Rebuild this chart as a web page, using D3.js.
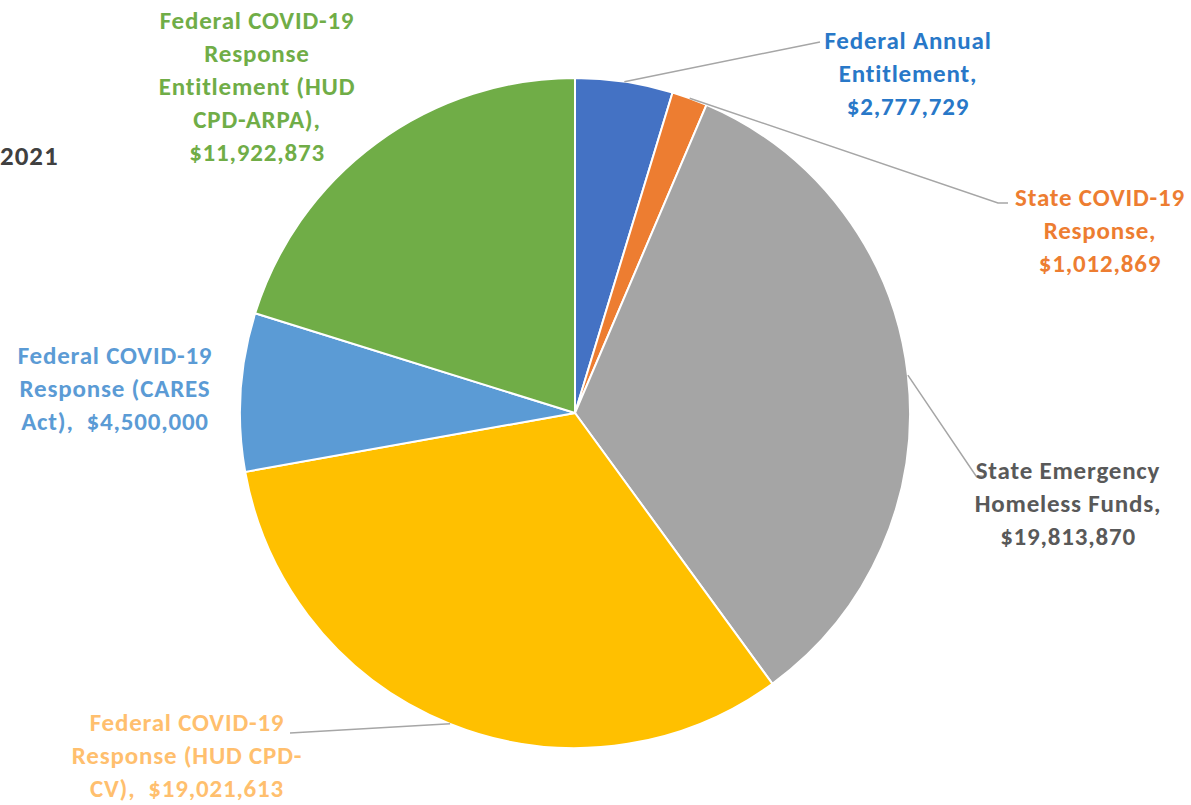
<!DOCTYPE html>
<html>
<head>
<meta charset="utf-8">
<script src="https://cdn.jsdelivr.net/npm/d3@7"></script>
<style>
  body { margin:0; background:#fff; }
  svg text { font-family: Carlito, Calibri, Lato, "Open Sans", sans-serif; font-weight:bold; }
</style>
</head>
<body>
<svg width="1191" height="805"></svg>
<script>
// data, clockwise from 12 o'clock
const categories = [
  'Federal Annual Entitlement',
  'State COVID-19 Response',
  'State Emergency Homeless Funds',
  'Federal COVID-19 Response (HUD CPD-CV)',
  'Federal COVID-19 Response (CARES Act)',
  'Federal COVID-19 Response Entitlement (HUD CPD-ARPA)'
];
const amounts = [2777729, 1012869, 19813870, 19021613, 4500000, 11922873];
const labelLines = [
  ['Federal Annual', 'Entitlement,', '$2,777,729'],
  ['State COVID-19', 'Response,', '$1,012,869'],
  ['State Emergency', 'Homeless Funds,', '$19,813,870'],
  ['Federal COVID-19', 'Response (HUD CPD-', 'CV),  $19,021,613'],
  ['Federal COVID-19', 'Response (CARES', 'Act),  $4,500,000'],
  ['Federal COVID-19', 'Response', 'Entitlement (HUD', 'CPD-ARPA),', '$11,922,873']
];
const sliceColors = ['#4472C4', '#ED7D31', '#A5A5A5', '#FFC000', '#5B9BD5', '#70AD47'];
const labelColors = ['#2878C8', '#ED7D31', '#595959', '#FFBF6E', '#5B9BD5', '#70AD47'];

function Start(){
    const svg = d3.select('svg');
    const cx = 575, cy = 413, radius = 335;
    const lineH = 33;

    // label placement: center x, first line y, leader line end (or null)
    const labelPos = [
      { x: 908, y: 40,  end: [820, 42],  elbow: null },
      { x: 1100, y: 197, end: [1008, 203], elbow: [998, 203] },
      { x: 1068, y: 470, end: [986, 476], elbow: [976, 476] },
      { x: 187, y: 722, end: [290, 733], elbow: null },
      { x: 115, y: 355, end: null },
      { x: 257, y: 20,  end: null }
    ];

    const data = categories.map((c, i) => ({ name: c, value: amounts[i], i }));

    const pie = d3.pie().value(d => d.value).sort(null);
    const arc = d3.arc().innerRadius(0).outerRadius(radius);
    const arcs = pie(data);

    const g = svg.append('g')
        .attr('transform', `translate(${cx},${cy})`);

    g.selectAll('path').data(arcs)
      .enter().append('path')
        .attr('d', arc)
        .attr('fill', d => sliceColors[d.data.i])
        .attr('stroke', '#fff')
        .attr('stroke-width', 2);

    // leader lines
    arcs.forEach(a => {
      const p = labelPos[a.data.i];
      if (!p.end) return;
      const mid = (a.startAngle + a.endAngle) / 2;
      const ax = cx + radius * Math.sin(mid);
      const ay = cy - radius * Math.cos(mid);
      const pts = [[ax, ay]];
      if (p.elbow) pts.push(p.elbow);
      pts.push(p.end);
      svg.append('path')
        .attr('d', d3.line()(pts))
        .attr('fill', 'none')
        .attr('stroke', '#A6A6A6')
        .attr('stroke-width', 1.5);
    });

    // labels
    data.forEach(d => {
      const p = labelPos[d.i];
      const t = svg.append('text')
        .attr('text-anchor', 'middle')
        .attr('font-size', 25)
        .attr('letter-spacing', 0.8)
        .attr('fill', labelColors[d.i]);
      labelLines[d.i].forEach((ln, k) => {
        t.append('tspan')
          .attr('x', p.x)
          .attr('y', p.y + k * lineH)
          .attr('dy', '0.35em')
          .style('white-space', 'pre')
          .text(ln);
      });
    });

    svg.append('text')
      .attr('x', 0)
      .attr('y', 156)
      .attr('dy', '0.35em')
      .attr('font-size', 27)
      .attr('letter-spacing', 1)
      .attr('fill', '#404040')
      .text('2021');
}
Start();
</script>
</body>
</html>
